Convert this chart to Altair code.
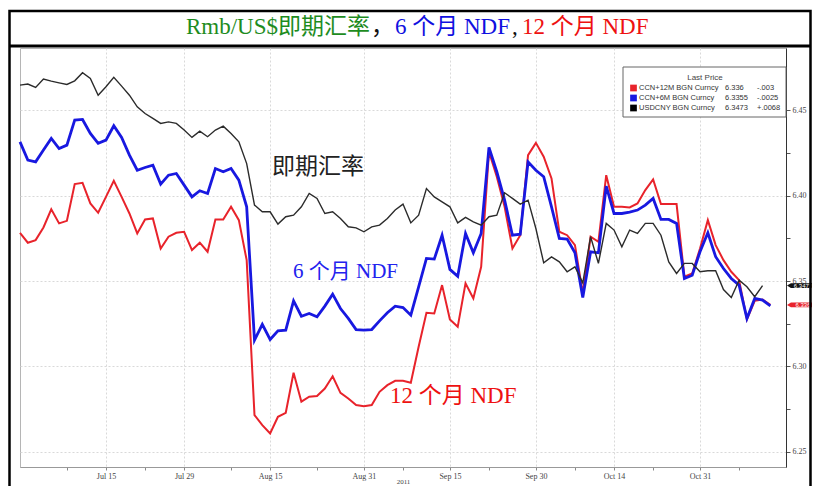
import altair as alt
import pandas as pd

# ---------------- data ----------------
trade_days = pd.bdate_range("2011-06-30", "2011-11-11").strftime("%Y-%m-%d").tolist()

spot = [6.4646, 6.4652, 6.4632, 6.4681, 6.4669, 6.4659, 6.4650, 6.4671, 6.4718, 6.4685,
        6.4587, 6.4636, 6.4691, 6.4640, 6.4587, 6.4519, 6.4480, 6.4451, 6.4422, 6.4431,
        6.4422, 6.4383, 6.4340, 6.4377, 6.4344, 6.4383, 6.4406, 6.4363, 6.4314, 6.4187,
        6.3944, 6.3905, 6.3905, 6.3833, 6.3876, 6.3885, 6.3934, 6.4012, 6.3983, 6.3895,
        6.3905, 6.3866, 6.3817, 6.3811, 6.3788, 6.3817, 6.3827, 6.3866, 6.3915, 6.3950,
        6.3840, 6.3885, 6.4041, 6.3992, 6.3963, 6.3934, 6.3840, 6.3872, 6.3846, 6.3827,
        6.3876, 6.3885, 6.4016, 6.3983, 6.3950, 6.3973, 6.3807, 6.3606, 6.3641, 6.3612,
        6.3554, 6.3583, 6.3489, 6.3759, 6.3603, 6.3837, 6.3798, 6.3700, 6.3798, 6.3778,
        6.3837, 6.3837, 6.3768, 6.3612, 6.3544, 6.3603, 6.3603, 6.3554, 6.3560, 6.3560,
        6.3450, 6.3404, 6.3505, 6.3466, 6.3408, 6.3473]

ndf6 = [6.4314, 6.4207, 6.4197, 6.4266, 6.4334, 6.4275, 6.4295, 6.4441, 6.4445, 6.4363,
        6.4305, 6.4324, 6.4408, 6.4340, 6.4236, 6.4148, 6.4164, 6.4178, 6.4067, 6.4119,
        6.4129, 6.4061, 6.3992, 6.4028, 6.4012, 6.4158, 6.4139, 6.4158, 6.4090, 6.3934,
        6.3154, 6.3246, 6.3158, 6.3209, 6.3213, 6.3384, 6.3294, 6.3310, 6.3291, 6.3353,
        6.3423, 6.3339, 6.3281, 6.3216, 6.3213, 6.3216, 6.3267, 6.3314, 6.3353, 6.3345,
        6.3300, 6.3466, 6.3632, 6.3628, 6.3768, 6.3568, 6.3528, 6.3778, 6.3665, 6.3778,
        6.4281, 6.4139, 6.3973, 6.3768, 6.3774, 6.4197, 6.4148, 6.4110, 6.3934, 6.3749,
        6.3745, 6.3665, 6.3404, 6.3671, 6.3665, 6.4055, 6.3895, 6.3895, 6.3903, 6.3915,
        6.3944, 6.3983, 6.3860, 6.3860, 6.3837, 6.3515, 6.3534, 6.3671, 6.3782, 6.3642,
        6.3573, 6.3515, 6.3476, 6.3281, 6.3398, 6.3388, 6.3355]

ndf12 = [6.3782, 6.3724, 6.3739, 6.3813, 6.3919, 6.3837, 6.3852, 6.4067, 6.4074, 6.3954,
         6.3899, 6.3992, 6.4086, 6.3992, 6.3895, 6.3778, 6.3860, 6.3866, 6.3690, 6.3759,
         6.3782, 6.3788, 6.3681, 6.3724, 6.3671, 6.3860, 6.3860, 6.3934, 6.3856, 6.3622,
         6.2716, 6.2657, 6.2608, 6.2706, 6.2729, 6.2963, 6.2794, 6.2823, 6.2827, 6.2871,
         6.2943, 6.2846, 6.2813, 6.2774, 6.2768, 6.2774, 6.2852, 6.2891, 6.2916, 6.2916,
         6.2905, 6.3115, 6.3314, 6.3310, 6.3476, 6.3275, 6.3232, 6.3486, 6.3398, 6.3583,
         6.4256, 6.4110, 6.3934, 6.3690, 6.3768, 6.4236, 6.4308, 6.4227, 6.4100, 6.3788,
         6.3768, 6.3710, 6.3427, 6.3759, 6.3729, 6.4119, 6.3934, 6.3934, 6.3930, 6.3954,
         6.4032, 6.4094, 6.3950, 6.3950, 6.3950, 6.3525, 6.3544, 6.3690, 6.3856, 6.3710,
         6.3622, 6.3554, 6.3505, 6.3275, 6.3384, 6.3392, 6.3360]

tick_dates = ["2011-07-15", "2011-07-29", "2011-08-15", "2011-08-31",
              "2011-09-15", "2011-09-30", "2011-10-14", "2011-10-31"]
tick_labels = ["Jul 15", "Jul 29", "Aug 15", "Aug 31", "Sep 15", "Sep 30", "Oct 14", "Oct 31"]
minor_dates = ["2011-07-08", "2011-07-22", "2011-08-08", "2011-08-23", "2011-09-07",
               "2011-09-22", "2011-10-07", "2011-10-21", "2011-11-07"]
y_ticks = [6.25, 6.275, 6.30, 6.325, 6.35, 6.375, 6.40, 6.425, 6.45]

legend_names = ["CCN+12M BGN Curncy", "CCN+6M BGN Curncy", "USDCNY BGN Curncy"]
legend_last = ["6.336", "6.3355", "6.3473"]
legend_chg = ["-.003", "-.0025", "+.0068"]

RED, BLUE, BLACK = "#e8232b", "#1818e0", "#2b2b2b"
SERIF = "Liberation Serif, Noto Sans CJK SC"
SANS = "Liberation Sans, Arial"

rows = []
for name, vals in [("CCN+12M", ndf12), ("CCN+6M", ndf6), ("USDCNY", spot)]:
    for i, v in enumerate(vals):
        rows.append({"series": name, "idx": i, "date": trade_days[i], "value": v})
df = pd.DataFrame(rows)

tick_idx = [trade_days.index(d) for d in tick_dates]
minor_idx = [trade_days.index(d) for d in minor_dates]
idx_js = "[" + ",".join(str(i) for i in tick_idx) + "]"
lab_js = "[" + ",".join("'" + t + "'" for t in tick_labels) + "]"
x_major = f"indexof({idx_js}, datum.value) >= 0"

x_enc = alt.X(
    "idx:Q",
    scale=alt.Scale(domain=[0, 98], nice=False, zero=False),
    axis=alt.Axis(
        values=sorted(tick_idx + minor_idx),
        labelExpr=f"{x_major} ? {lab_js}[indexof({idx_js}, datum.value)] : ''",
        title="2011", titleFontSize=7, titleFontWeight="normal", titleColor="#444",
        titlePadding=-3, titleFont=SERIF,
        labelFont=SERIF, labelFontSize=8, labelColor="#444", labelPadding=2,
        domainColor="#999", tickColor="#888", tickSize=3,
        grid=True, gridColor="#d9d9d9", gridDash=[2, 2],
        gridOpacity={"condition": {"test": x_major, "value": 1}, "value": 0},
    ),
)
y_major = "abs(datum.value*20 - round(datum.value*20)) < 0.001"
y_enc = alt.Y(
    "value:Q",
    scale=alt.Scale(domain=[6.2412, 6.4863], nice=False, zero=False),
    axis=alt.Axis(
        orient="right", values=y_ticks, title=None,
        labelExpr=f"{y_major} ? format(datum.value, '.2f') : ''",
        labelFont=SERIF, labelFontSize=8, labelColor="#444", labelPadding=2,
        domainColor="#333", tickColor="#555", tickSize=4,
        grid=True, gridColor="#d9d9d9", gridDash=[2, 2],
        gridOpacity={"condition": {"test": y_major, "value": 1}, "value": 0},
    ),
)

base = alt.Chart(df)
red_line = base.transform_filter(alt.datum.series == "CCN+12M").mark_line(
    color=RED, strokeWidth=2).encode(x=x_enc, y=y_enc)
blue_line = base.transform_filter(alt.datum.series == "CCN+6M").mark_line(
    color=BLUE, strokeWidth=2.8).encode(x=x_enc, y=y_enc)
black_line = base.transform_filter(alt.datum.series == "USDCNY").mark_line(
    color=BLACK, strokeWidth=1.4).encode(x=x_enc, y=y_enc)

one = pd.DataFrame({"a": [0]})


def txt(text, x, y, color, size, font=SERIF, align="left", baseline="middle"):
    return alt.Chart(one).mark_text(
        text=text, align=align, baseline=baseline, font=font, fontSize=size, color=color
    ).encode(x=alt.value(x), y=alt.value(y))


# last-price tags on the right axis
tag_df = pd.DataFrame({"value": [spot[-1], ndf12[-1]],
                       "label": [legend_last[2], legend_last[0]],
                       "color": ["#111111", RED]})
TAG = "M-1,0L-0.72,-0.17L1,-0.17L1,0.17L-0.72,0.17Z"
tags = alt.Chart(tag_df).mark_point(shape=TAG, filled=True, size=784, opacity=1).encode(
    x=alt.value(781), y=y_enc, color=alt.Color("color:N", scale=None))
tag_text = alt.Chart(tag_df).mark_text(color="white", fontSize=6, font=SANS, align="center").encode(
    x=alt.value(783), y=y_enc, text="label:N")

# frame and title separator
frame = alt.Chart(one).mark_rect(fillOpacity=0, stroke="black", strokeWidth=2.5).encode(
    x=alt.value(-10.5), x2=alt.value(790.5), y=alt.value(-37), y2=alt.value(470))
sep = alt.Chart(one).mark_rule(color="black", strokeWidth=3).encode(
    x=alt.value(-10.5), x2=alt.value(790.5), y=alt.value(-2))

# title pieces
title_parts = [
    txt("Rmb/US$即期汇率", 166, -21, "#1e8c1e", 23),
    txt("，", 351, -21, "#111", 23),
    txt("6 个月 NDF", 375, -21, "#1010e0", 23),
    txt(",", 492, -21, "#111", 23),
    txt("12 个月 NDF", 502, -21, "#ee1111", 23),
]

# in-plot annotations
annots = [
    txt("即期汇率", 252, 119, "#222", 23),
    txt("6 个月 NDF", 273, 224, "#2222ee", 21),
    txt("12 个月 NDF", 370, 348, "#ee1111", 23),
]

# legend box
leg_box = alt.Chart(one).mark_rect(fill="white", stroke="#666", strokeWidth=1).encode(
    x=alt.value(603), x2=alt.value(766), y=alt.value(19), y2=alt.value(69))
leg_parts = [txt("Last Price", 685, 30, "#444", 8, font=SANS, align="center")]
for i, (nm, lp, ch, col) in enumerate(zip(legend_names, legend_last, legend_chg, [RED, BLUE, "#000"])):
    yy = 40 + 10 * i
    leg_parts.append(alt.Chart(one).mark_square(size=45, color=col, opacity=1).encode(
        x=alt.value(613.5), y=alt.value(yy)))
    leg_parts.append(txt(nm, 619, yy, "#333", 7.5, font=SANS))
    leg_parts.append(txt(lp, 705, yy, "#333", 7.5, font=SANS))
    leg_parts.append(txt(ch, 737, yy, "#333", 7.5, font=SANS))

chart = alt.layer(
    red_line, blue_line, black_line, tags, tag_text,
    leg_box, *leg_parts, *annots, *title_parts, frame, sep,
).properties(
    width=766, height=419,
    autosize="none",
    padding={"left": 12, "top": 40, "right": 26, "bottom": 22},
    background="white",
).configure_view(stroke="#b5b5b5", strokeWidth=1)

chart.save("out.html", embed_options={"renderer": "svg", "actions": False})
